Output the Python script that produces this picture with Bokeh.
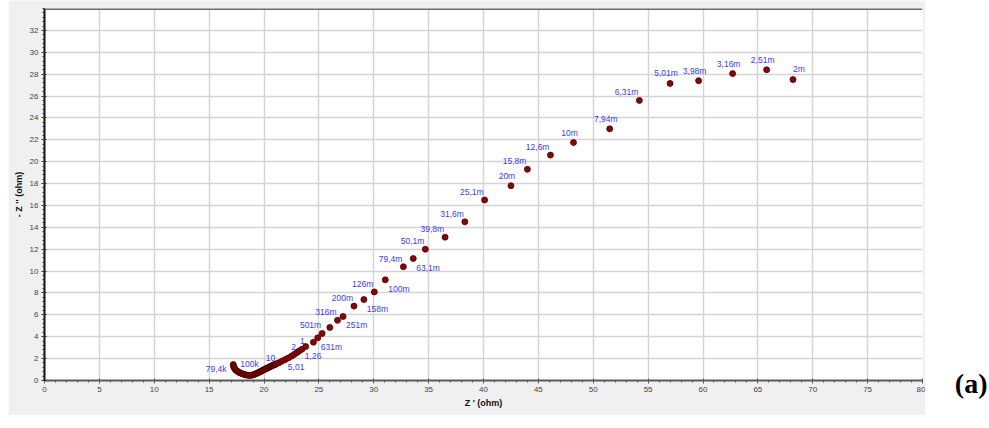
from bokeh.plotting import figure
from bokeh.models import Range1d, FixedTicker, Span, ColumnDataSource, Spacer
from bokeh.layouts import row
from bokeh.embed import file_html
from bokeh.resources import INLINE
from bokeh.core.properties import value

# ---------------- data ----------------
z_real = [17.20, 17.22, 17.27, 17.34, 17.42, 17.52, 17.63, 17.75, 17.88, 18.01,
          18.15, 18.29, 18.43, 18.57, 18.71, 18.85, 18.98, 19.10, 19.22, 19.33,
          19.44, 19.54, 19.64, 19.74, 19.84, 19.93, 20.02, 20.11, 20.20, 20.29,
          20.37, 20.45, 20.53, 20.61, 20.69, 20.77, 20.84, 20.91, 20.98, 21.05,
          21.12,
          21.35, 21.62, 21.90, 22.20, 22.50, 22.75, 23.00, 23.20, 23.45, 23.80,
          24.50, 24.90, 25.30, 26.00, 26.70, 27.20, 28.20, 29.10, 30.05, 31.05,
          32.70, 33.60, 34.70, 36.50, 38.30, 40.10, 42.50, 44.00, 46.10, 48.20,
          51.50, 54.20, 57.00, 59.60, 62.70, 65.80, 68.20]

z_imag = [1.46, 1.32, 1.19, 1.07, 0.97, 0.88, 0.80, 0.73, 0.67, 0.62,
          0.57, 0.53, 0.50, 0.47, 0.46, 0.48, 0.51, 0.55, 0.60, 0.65,
          0.70, 0.75, 0.80, 0.85, 0.90, 0.95, 1.00, 1.04, 1.09, 1.13,
          1.17, 1.21, 1.25, 1.29, 1.33, 1.37, 1.40, 1.43, 1.46, 1.49,
          1.52,
          1.62, 1.76, 1.90, 2.05, 2.22, 2.38, 2.55, 2.70, 2.85, 3.10,
          3.50, 3.90, 4.30, 4.85, 5.50, 5.85, 6.80, 7.40, 8.10, 9.20,
          10.40, 11.15, 12.00, 13.10, 14.50, 16.50, 17.80, 19.30, 20.60, 21.75,
          23.00, 25.60, 27.15, 27.40, 28.05, 28.40, 27.50]

freq_labels = (["100k", "79,4k"] + [""] * 38 +
               ["10", "", "", "5,01", "", "", "", "2", "", "1,26", "1",
                "", "631m", "501m", "", "316m", "251m", "200m", "158m", "126m", "100m",
                "79,4m", "63,1m", "50,1m", "39,8m", "31,6m", "25,1m", "20m", "15,8m", "12,6m", "10m",
                "7,94m", "6,31m", "5,01m", "3,98m", "3,16m", "2,51m", "2m"])

x_ticks = [0, 5, 10, 15, 20, 25, 30, 35, 40, 45, 50, 55, 60, 65, 70, 75, 80]
y_ticks = [0, 2, 4, 6, 8, 10, 12, 14, 16, 18, 20, 22, 24, 26, 28, 30, 32]
x_title = "Z ' (ohm)"
y_title = "- Z '' (ohm)"
panel_tag = "(a)"

# ---------------- styles ----------------
label_side = {"100k": "R", "79,4k": "L", "5,01": "LR", "1,26": "LR", "631m": "LR",
              "251m": "LR", "158m": "LR", "100m": "LR", "63,1m": "LR",
              "20m": "U", "10m": "U", "7,94m": "U", "5,01m": "U", "3,98m": "U",
              "3,16m": "U", "2,51m": "U", "2m": "UR"}
side_style = {
    "UL": dict(text_align="right", text_baseline="bottom", x_offset=-1, y_offset=-3),
    "LR": dict(text_align="left", text_baseline="top", x_offset=3, y_offset=4),
    "U": dict(text_align="center", text_baseline="bottom", x_offset=-4, y_offset=-5),
    "UR": dict(text_align="left", text_baseline="bottom", x_offset=0, y_offset=-6),
    "L": dict(text_align="right", text_baseline="middle", x_offset=-7, y_offset=3),
    "R": dict(text_align="left", text_baseline="middle", x_offset=7, y_offset=-1),
}

PANEL = "#f0f0f0"
W, H = 917, 415

p = figure(width=W, height=H, x_range=Range1d(0, 80), y_range=Range1d(0, 34),
           output_backend="svg", toolbar_location=None,
           min_border_left=36, min_border_right=3, min_border_top=8, min_border_bottom=35,
           background_fill_color="white", border_fill_color=PANEL)
p.outline_line_color = None

x_minor = [i * 1.0 for i in range(0, 81)]
y_minor = [round(i * 0.4, 2) for i in range(0, 86)]
p.xaxis.ticker = FixedTicker(ticks=x_ticks, minor_ticks=x_minor)
p.yaxis.ticker = FixedTicker(ticks=y_ticks, minor_ticks=y_minor)
p.xgrid.ticker = FixedTicker(ticks=x_ticks)
p.ygrid.ticker = FixedTicker(ticks=y_ticks)
p.grid.grid_line_color = "#d4d4d4"
p.grid.grid_line_width = 1.5

for ax in (p.xaxis, p.yaxis):
    ax.major_label_text_font = "Liberation Sans"
    ax.major_label_text_font_size = "8px"
    ax.major_label_text_color = "#444444"
    ax.axis_label_text_font = "Liberation Sans"
    ax.axis_label_text_font_size = "9px"
    ax.axis_label_text_font_style = "bold"
    ax.axis_label_text_color = "#111111"
    ax.major_tick_in = 2
    ax.major_tick_out = 3
    ax.minor_tick_in = 0
    ax.minor_tick_out = 2
    ax.major_label_standoff = 3

p.xaxis.axis_label = x_title
p.yaxis.axis_label = y_title
p.xaxis.axis_line_color = "#5a5a5a"
p.xaxis.axis_line_width = 2
p.xaxis.major_tick_line_color = "#5a5a5a"
p.xaxis.minor_tick_line_color = "#5a5a5a"
p.xaxis.axis_label_standoff = 3
p.yaxis.axis_line_color = "#111111"
p.yaxis.axis_line_width = 2
p.yaxis.major_tick_line_color = "#333333"
p.yaxis.minor_tick_line_color = "#333333"
p.yaxis.axis_label_standoff = 3

p.add_layout(Span(location=34, dimension="width", line_color="#6a6a6a", line_width=3))

pts = ColumnDataSource(data=dict(x=z_real, y=z_imag))
p.scatter("x", "y", source=pts, size=6, marker="circle",
          fill_color="#850808", line_color="#4a0000", line_width=0.8)

groups = {}
for xr, yi, lab in zip(z_real, z_imag, freq_labels):
    if not lab:
        continue
    side = label_side.get(lab, "UL")
    g = groups.setdefault(side, dict(x=[], y=[], t=[]))
    g["x"].append(xr)
    g["y"].append(yi)
    g["t"].append(lab)

for side, g in groups.items():
    st = side_style[side]
    p.text(x="x", y="y", text="t", source=ColumnDataSource(data=g),
           text_font=value("Liberation Sans"), text_font_size="8.5px",
           text_color="#3b3bf0", **st)

# panel tag "(a)" to the right of the chart panel (own frame, not aligned to p)
p2 = figure(width=64, height=H, x_range=Range1d(0, 64), y_range=Range1d(0, H),
            output_backend="svg", toolbar_location=None, title=None,
            x_axis_location=None, y_axis_location=None, min_border=0,
            background_fill_color="white", border_fill_color="white")
p2.frame_align = False
p2.outline_line_color = None
p2.grid.visible = False
p2.text(x=[62], y=[32], text=[panel_tag], text_font=value("Liberation Serif"),
        text_font_style="bold", text_font_size="28px", text_color="black",
        text_align="right", text_baseline="middle")

layout = row(Spacer(width=8, height=H), p, p2, spacing=0)
open("out.html", "w").write(file_html(layout, INLINE))
